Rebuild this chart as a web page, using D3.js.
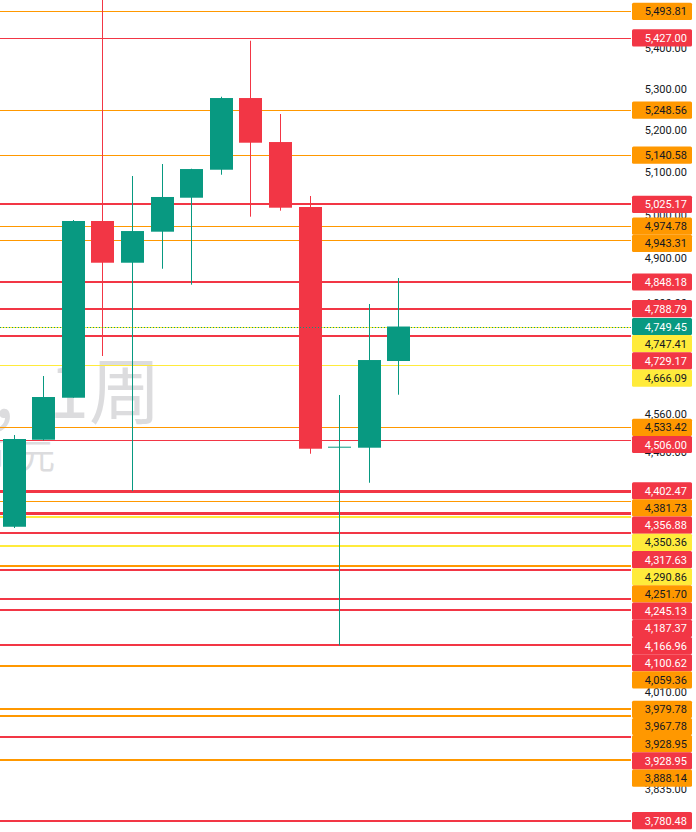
<!DOCTYPE html>
<html>
<head>
<meta charset="utf-8">
<script src="https://cdn.jsdelivr.net/npm/d3@7"></script>
<style>
  html, body { margin: 0; padding: 0; background: #ffffff; }
  svg { display: block; }
</style>
</head>
<body>
<svg id="chart" width="696" height="832"></svg>
<script>
// ---------------- DATA ----------------
const weeks  = ["W01","W02","W03","W04","W05","W06","W07","W08","W09","W10","W11","W12","W13","W14"];
const opens  = [4329.9, 4507.5, 4595.8, 4986.7, 4891.5, 4962.1, 5040.6, 5106.2, 5278.1, 5171.9, 5019.0, 4491.0, 4490.9, 4674.4];
const highs  = [4517.3, 4642.1, 4988.9, 5600.0, 5091.4, 5119.7, 5108.5, 5281.3, 5419.7, 5239.3, 5044.6, 4601.6, 4799.1, 4857.1];
const lows   = [4327.4, 4506.0, 4595.8, 4685.2, 4401.9, 4877.9, 4842.1, 5094.4, 4996.6, 5010.5, 4478.4, 4099.1, 4418.8, 4602.2];
const closes = [4509.0, 4597.3, 4986.7, 4891.5, 4963.6, 5042.3, 5107.8, 5278.1, 5170.3, 5017.4, 4488.8, 4493.0, 4676.5, 4749.45];

const levelValues = [5493.81, 5427.00, 5248.56, 5140.58, 5025.17, 4974.78, 4943.31, 4848.18, 4788.79, 4747.41, 4729.17, 4666.09,
                     4533.42, 4506.00, 4402.47, 4381.73, 4356.88, 4350.36, 4317.63, 4290.86, 4251.70, 4245.13, 4187.37, 4166.96,
                     4100.62, 4059.36, 3979.78, 3967.78, 3928.95, 3928.95, 3888.14, 3780.48];
const levelKinds  = ["orange","red","orange","orange","red","orange","orange","red","red","yellow","red","yellow",
                     "orange","red","red","orange","red","yellow","red","yellow","orange","red","red","red",
                     "red","orange","orange","orange","orange","red","orange","red"];
const levelStrength = [1,1,1,1,2,1,1,2,2,1,2,1,
                       1,1,3,1,3,2,2,2,2,2,2,2,
                       2,2,2,2,2,2,2,2];

const lastPrice = 4749.45;
const axisTicks = [5400, 5300, 5200, 5100, 5000, 4900, 4800, 4560, 4480, 4010, 3835];
const watermarkSymbol = "沪深300,";
const watermarkInterval = "1周";
const watermarkSubHead = "币";
const watermarkSubTail = "元";

// ---------------- LAYOUT ----------------
const W = 696, H = 832;
const plotRight = 632;
const labelX = 632, labelW = 60, labelH = 17.2;

const colors = { green: "#089981", red: "#f23645", orange: "#ff9800", yellow: "#ffeb3b" };
const kindFill = d3.scaleOrdinal().domain(["orange","red","yellow","green"])
  .range([colors.orange, colors.red, colors.yellow, colors.green]);
const kindText = d3.scaleOrdinal().domain(["orange","red","yellow","green"])
  .range(["#131722", "#ffffff", "#131722", "#ffffff"]);
const strokeW = d3.scaleOrdinal().domain([1,2,3]).range([1, 2, 3]);

const y = d3.scaleLog().domain([5522.6, 3760.5]).range([0, H]);
const x = d3.scalePoint().domain(weeks).range([13.7, 398.3]);
const bodyW = 23;

const fmt = d3.format(",.2f");
const svg = d3.select("#chart");

// watermark
const wm = svg.append("g").attr("fill", "#dcdcde").style("font-family", "'Noto Sans CJK SC', sans-serif");
wm.append("text").attr("x", 14).attr("y", 418).attr("text-anchor", "end")
  .style("font-size", "72px").text(watermarkSymbol);
wm.append("text").attr("x", 161).attr("y", 418).attr("text-anchor", "end")
  .style("font-size", "72px").text(watermarkInterval);
wm.append("text").attr("x", 6).attr("y", 469).attr("text-anchor", "end")
  .style("font-size", "35px").text(watermarkSubHead);
wm.append("text").attr("x", 55).attr("y", 469).attr("text-anchor", "end")
  .style("font-size", "35px").text(watermarkSubTail);

// axis tick labels (drawn beneath the level labels)
const axisG = svg.append("g");
axisG.selectAll("text").data(axisTicks).join("text")
  .attr("x", 687).attr("y", d => y(d))
  .attr("text-anchor", "end").attr("dominant-baseline", "central")
  .style("font-family", "Roboto, sans-serif").style("font-size", "11px")
  .attr("fill", "#131722").text(d => fmt(d));

// level lines
const levels = levelValues.map((v, i) => ({ v, kind: levelKinds[i], s: levelStrength[i], i }));
svg.append("g").selectAll("line").data(levels).join("line")
  .attr("x1", 0).attr("x2", plotRight - 1)
  .attr("y1", d => Math.round(y(d.v)) + (strokeW(d.s) % 2 ? 0.5 : 0))
  .attr("y2", d => Math.round(y(d.v)) + (strokeW(d.s) % 2 ? 0.5 : 0))
  .attr("stroke", d => kindFill(d.kind)).attr("stroke-width", d => strokeW(d.s));

// candles
const candles = weeks.map((w, i) => ({ w, o: opens[i], h: highs[i], l: lows[i], c: closes[i] }));
const cg = svg.append("g").selectAll("g").data(candles).join("g");
cg.append("line")
  .attr("x1", d => Math.round(x(d.w)) + 0.5).attr("x2", d => Math.round(x(d.w)) + 0.5)
  .attr("y1", d => y(d.h)).attr("y2", d => y(d.l))
  .attr("stroke", d => d.c >= d.o ? colors.green : colors.red).attr("stroke-width", 1);
cg.append("rect")
  .attr("x", d => Math.round(x(d.w)) - 11).attr("width", bodyW)
  .attr("y", d => y(Math.max(d.o, d.c)))
  .attr("height", d => Math.max(1, y(Math.min(d.o, d.c)) - y(Math.max(d.o, d.c))))
  .attr("fill", d => d.c >= d.o ? colors.green : colors.red);

// last price dotted line
svg.append("line")
  .attr("x1", 0).attr("x2", plotRight - 1)
  .attr("y1", Math.round(y(lastPrice)) + 0.5).attr("y2", Math.round(y(lastPrice)) + 0.5)
  .attr("stroke", colors.green).attr("stroke-width", 1).attr("stroke-dasharray", "1,2");

// labels: stack downward to avoid overlap
const labels = levels.map(d => ({ v: d.v, kind: d.kind, ideal: y(d.v), order: d.i }));
labels.push({ v: lastPrice, kind: "green", ideal: y(lastPrice), order: -1 });
labels.sort((a, b) => a.ideal - b.ideal || a.order - b.order);
let prev = -Infinity;
labels.forEach(l => {
  l.pos = Math.max(l.ideal, prev + labelH, labelH / 2 + 2);
  prev = l.pos;
});
const lg = svg.append("g").selectAll("g").data(labels).join("g")
  .attr("transform", d => `translate(${labelX},${d.pos - labelH / 2})`);
lg.append("rect").attr("width", labelW).attr("height", labelH).attr("rx", 1.5)
  .attr("fill", d => kindFill(d.kind));
lg.append("text").attr("x", 55).attr("y", labelH / 2 + 0.5)
  .attr("text-anchor", "end").attr("dominant-baseline", "central")
  .style("font-family", "Roboto, sans-serif").style("font-size", "11px")
  .attr("fill", d => kindText(d.kind)).text(d => fmt(d.v));
</script>
</body>
</html>
